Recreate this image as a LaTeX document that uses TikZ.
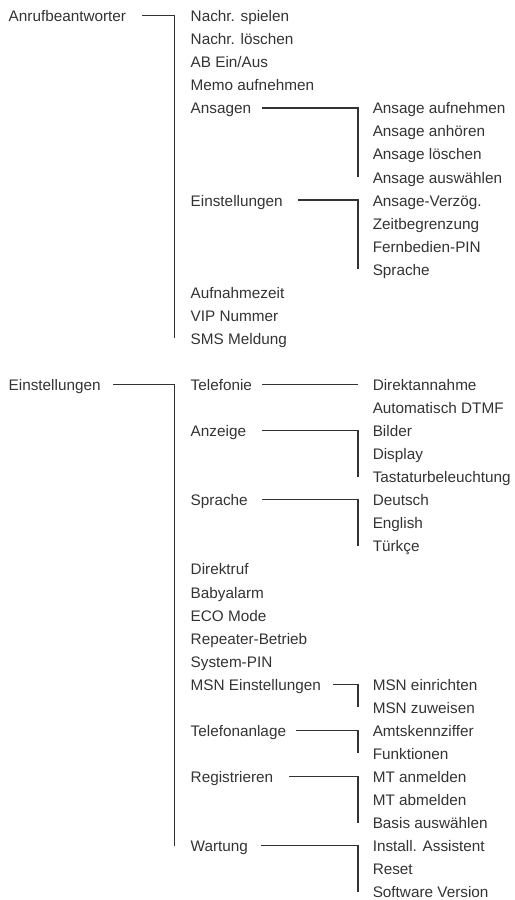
\documentclass[tikz,border=0pt]{standalone}
\usepackage{fontspec}
\setmainfont{Liberation Sans}
\usepackage{tikz}

\tikzset{
	item/.style={anchor=west, inner sep=0pt, text height=12pt, text depth=0pt,
		text=black!80, font=\fontsize{15.3}{18}\selectfont},
	link/.style={draw=black!80, line width=1.3pt}
}

\begin{document}
\begin{tikzpicture}[x=1pt, y=-23.05pt]
	
	\useasboundingbox (0,-0.68) rectangle (514,38.36);
	\coordinate (br1) at (174.5, 0);
	\coordinate (br2) at (358, 0);
	
	% Anrufbeantworter
	\node[item] (anr)         at (8.5, 0)    {Anrufbeantworter};
	\node[item] (spielen)     at (190.5, 0)  {Nachr. spielen};
	\node[item] (loeschen)    at (190.5, 1)  {Nachr. löschen};
	\node[item] (abein)       at (190.5, 2)  {AB Ein/Aus};
	\node[item] (memo)        at (190.5, 3)  {Memo aufnehmen};
	\node[item] (ansagen)     at (190.5, 4)  {Ansagen};
	\node[item] (einst)       at (190.5, 8)  {Einstellungen};
	\node[item] (aufnzeit)    at (190.5, 12) {Aufnahmezeit};
	\node[item] (vip)         at (190.5, 13) {VIP Nummer};
	\node[item] (sms)         at (190.5, 14) {SMS Meldung};
	\node[item] (aufnehmen)   at (372.5, 4)  {Ansage aufnehmen};
	\node[item] (anhoeren)    at (372.5, 5)  {Ansage anhören};
	\node[item] (ansloeschen) at (372.5, 6)  {Ansage löschen};
	\node[item] (auswaehlen)  at (372.5, 7)  {Ansage auswählen};
	\node[item] (verzoeg)     at (372.5, 8)  {Ansage-Verzög.};
	\node[item] (zeitbegr)    at (372.5, 9)  {Zeitbegrenzung};
	\node[item] (fernpin)     at (372.5, 10) {Fernbedien-PIN};
	\node[item] (sprache)     at (372.5, 11) {Sprache};
	
	\draw[link] (anr.east -| 142,0) -- (anr -| br1) -- (br1 |- sms);
	\draw[link] (ansagen.east -| 262,0) -- (ansagen -| br2) -- (br2 |- auswaehlen);
	\draw[link] (einst.east -| 298,0) -- (einst -| br2) -- (br2 |- sprache);
	
	% Einstellungen
	\node[item] (einst2)        at (8.5, 16)   {Einstellungen};
	\node[item] (telefonie)     at (190.5, 16) {Telefonie};
	\node[item] (anzeige)       at (190.5, 18) {Anzeige};
	\node[item] (sprache2)      at (190.5, 21) {Sprache};
	\node[item] (direktruf)     at (190.5, 24) {Direktruf};
	\node[item] (babyalarm)     at (190.5, 25) {Babyalarm};
	\node[item] (eco)           at (190.5, 26) {ECO Mode};
	\node[item] (repeater)      at (190.5, 27) {Repeater-Betrieb};
	\node[item] (syspin)        at (190.5, 28) {System-PIN};
	\node[item] (msn)           at (190.5, 29) {MSN Einstellungen};
	\node[item] (telanlage)     at (190.5, 31) {Telefonanlage};
	\node[item] (registrieren)  at (190.5, 33) {Registrieren};
	\node[item] (wartung)       at (190.5, 36) {Wartung};
	\node[item] (direktannahme) at (372.5, 16) {Direktannahme};
	\node[item] (dtmf)          at (372.5, 17) {Automatisch DTMF};
	\node[item] (bilder)        at (372.5, 18) {Bilder};
	\node[item] (display)       at (372.5, 19) {Display};
	\node[item] (tastatur)      at (372.5, 20) {Tastaturbeleuchtung};
	\node[item] (deutsch)       at (372.5, 21) {Deutsch};
	\node[item] (english)       at (372.5, 22) {English};
	\node[item] (tuerkce)       at (372.5, 23) {Türkçe};
	\node[item] (msnein)        at (372.5, 29) {MSN einrichten};
	\node[item] (msnzu)         at (372.5, 30) {MSN zuweisen};
	\node[item] (amts)          at (372.5, 31) {Amtskennziffer};
	\node[item] (funktionen)    at (372.5, 32) {Funktionen};
	\node[item] (mtan)          at (372.5, 33) {MT anmelden};
	\node[item] (mtab)          at (372.5, 34) {MT abmelden};
	\node[item] (basis)         at (372.5, 35) {Basis auswählen};
	\node[item] (install)       at (372.5, 36) {Install. Assistent};
	\node[item] (reset)         at (372.5, 37) {Reset};
	\node[item] (software)      at (372.5, 38) {Software Version};
	
	\draw[link] (einst2.east -| 113,0) -- (einst2 -| br1) -- (br1 |- wartung);
	\draw[link] (telefonie.east -| 262,0) -- (telefonie -| br2);
	\draw[link] (anzeige.east -| 262,0) -- (anzeige -| br2) -- (br2 |- tastatur);
	\draw[link] (sprache2.east -| 262,0) -- (sprache2 -| br2) -- (br2 |- tuerkce);
	\draw[link] (msn.east -| 333,0) -- (msn -| br2) -- (br2 |- msnzu);
	\draw[link] (telanlage.east -| 296,0) -- (telanlage -| br2) -- (br2 |- funktionen);
	\draw[link] (registrieren.east -| 289,0) -- (registrieren -| br2) -- (br2 |- basis);
	\draw[link] (wartung.east -| 261,0) -- (wartung -| br2) -- (br2 |- software);
	
\end{tikzpicture}
\end{document}
